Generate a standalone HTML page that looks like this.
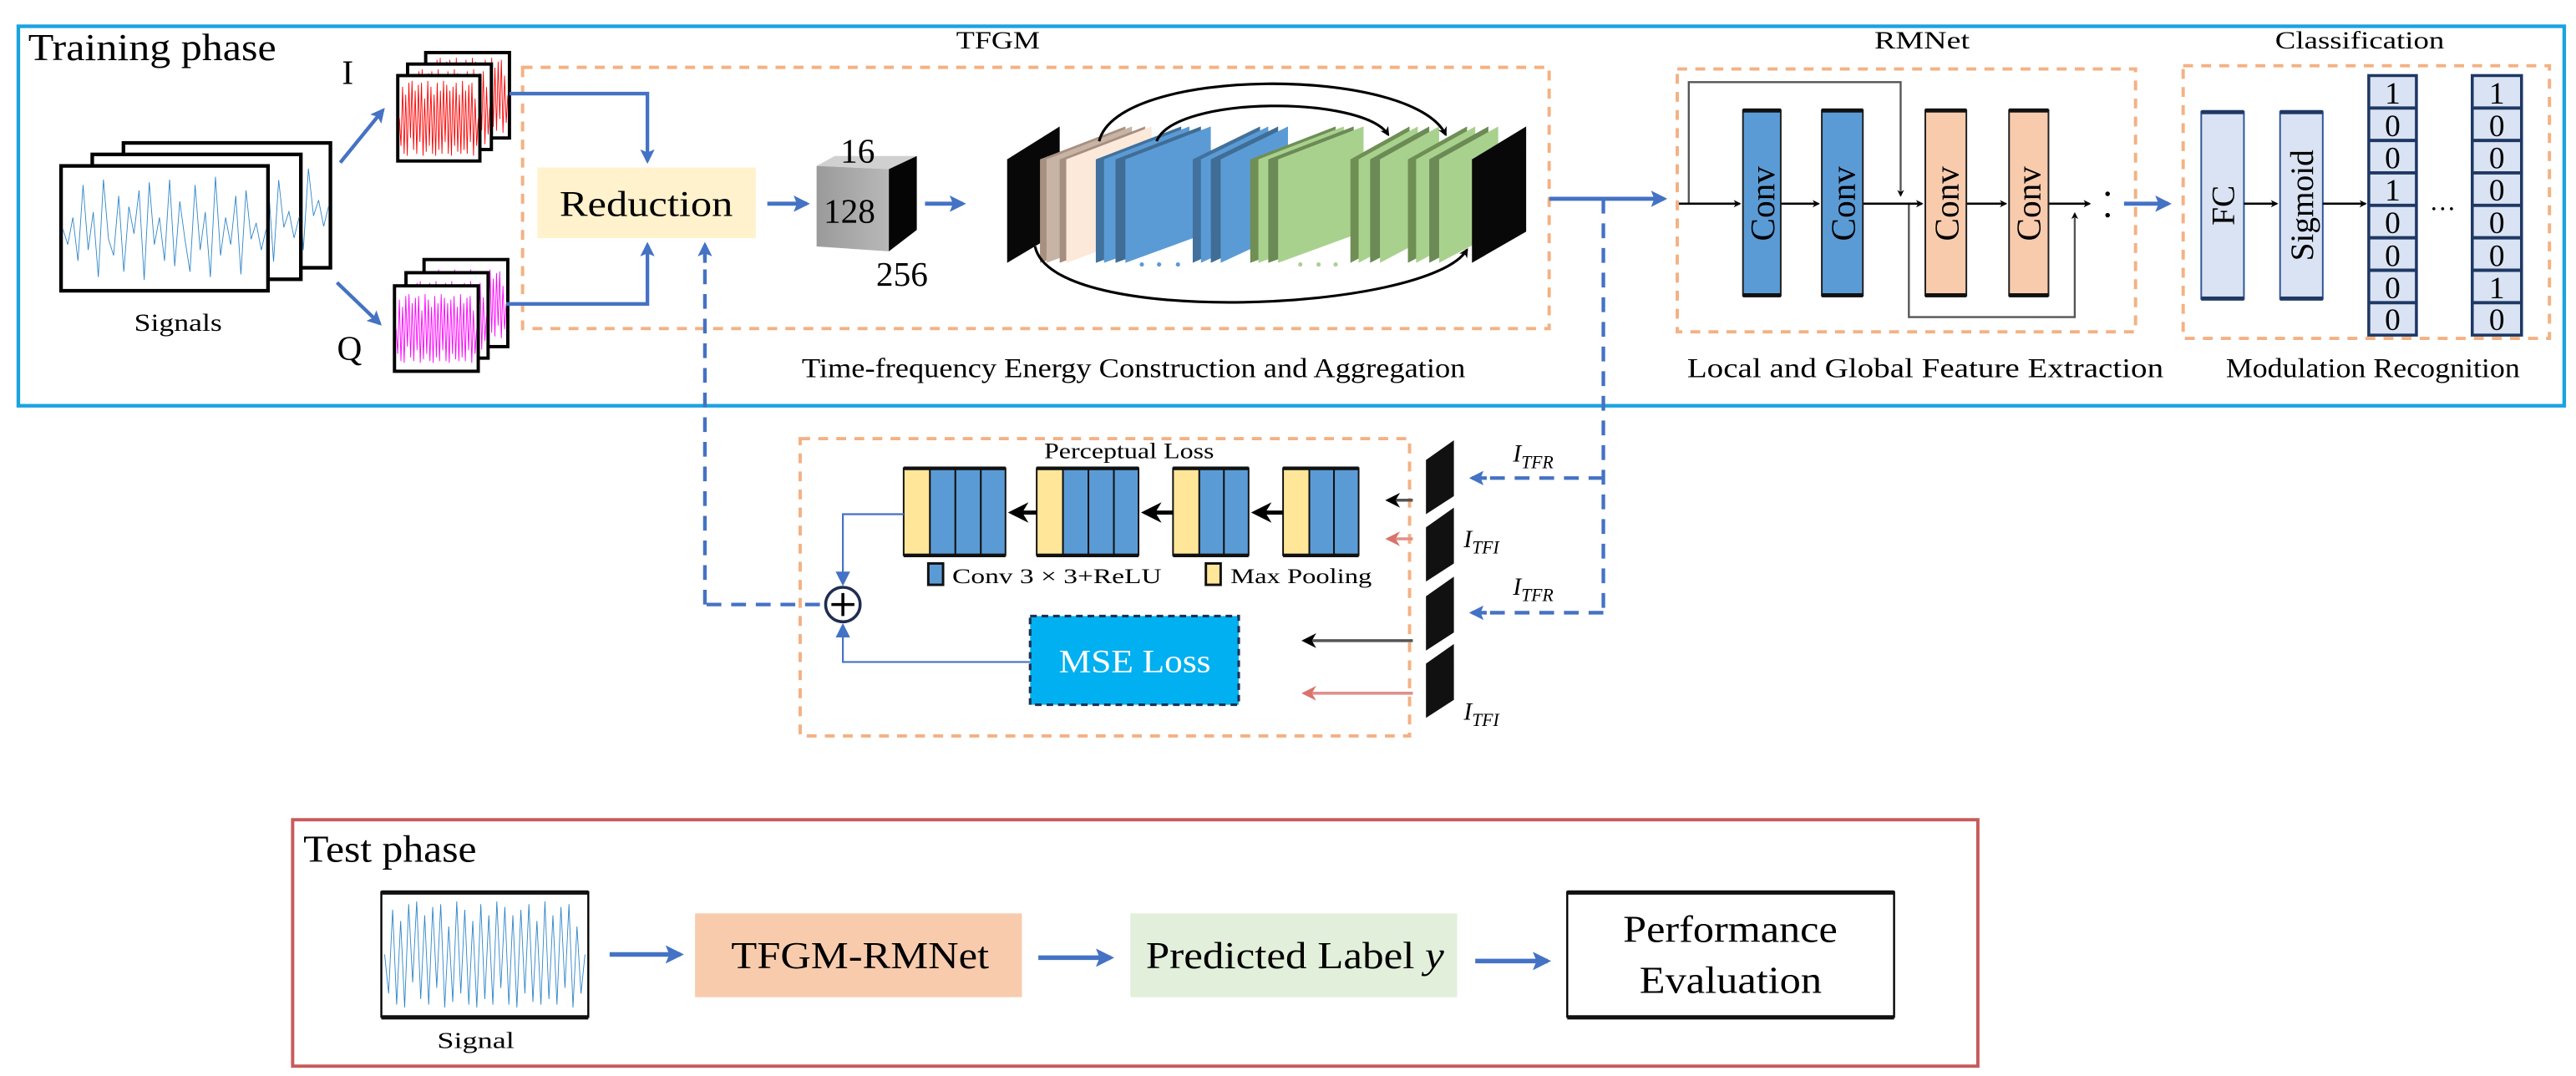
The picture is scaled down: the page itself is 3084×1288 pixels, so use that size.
<!DOCTYPE html>
<html><head><meta charset="utf-8"><style>
html,body{margin:0;padding:0;background:#fff;}
svg{display:block;}
text{font-family:"Liberation Serif",serif;fill:#000;}
</style></head><body>
<svg width="3084" height="1288" viewBox="0 0 1568 655" xmlns="http://www.w3.org/2000/svg">
<defs>
<marker id="ab" viewBox="0 0 10 10" refX="8" refY="5" markerWidth="4" markerHeight="4" orient="auto"><path d="M0,0L10,5L0,10L2,5z" fill="#4472c4"/></marker>
<marker id="abs" viewBox="0 0 10 10" refX="8" refY="5" markerWidth="8" markerHeight="10" orient="auto"><path d="M0,0L10,5L0,10z" fill="#4472c4"/></marker>
<marker id="ak" viewBox="0 0 10 10" refX="8" refY="5" markerWidth="7" markerHeight="7" orient="auto"><path d="M0,0L10,5L0,10z" fill="#000"/></marker>
<marker id="akb" viewBox="0 0 10 10" refX="8" refY="5" markerWidth="3.5" markerHeight="4" orient="auto"><path d="M0,0L10,5L0,10L3,5z" fill="#000"/></marker>
<marker id="ar" viewBox="0 0 10 10" refX="8" refY="5" markerWidth="5" markerHeight="6" orient="auto"><path d="M0,0L10,5L0,10L3,5z" fill="#d9736b"/></marker>
<marker id="akk" viewBox="0 0 10 10" refX="8" refY="5" markerWidth="5" markerHeight="6" orient="auto"><path d="M0,0L10,5L0,10L3,5z" fill="#000"/></marker>
<polyline id="wb" fill="none" stroke="#2e86c8" stroke-width="0.9" vector-effect="non-scaling-stroke" points="0,0 2.5,.3 5,-.2 7.5,.6 10,-.8 12.5,.4 15,-.3 17.5,.9 20,-.9 22.5,.2 25,.5 27.5,-.6 30,.8 32.5,-.4 35,.1 37.5,-.7 40,.95 42.5,-.85 45,.3 47.5,-.2 50,.6 52.5,-.9 55,.7 57.5,-.5 60,.2 62.5,.8 65,-.8 67.5,.4 70,-.3 72.5,.9 75,-.95 77.5,.5 80,-.2 82.5,.3 85,-.6 87.5,.85 90,-.7 92.5,.2 95,-.1 97.5,.4 100,0"/>
<polyline id="wr" fill="none" stroke-width="0.9" vector-effect="non-scaling-stroke" points="0,0 2,.7 4,-.8 6,.9 8,-.6 10,.95 12,-.9 14,.5 16,-.95 18,.8 20,-.7 22,.9 24,-.85 26,.6 28,-.9 30,.95 32,-.5 34,.85 36,-.95 38,.7 40,-.8 42,.9 44,-.6 46,.95 48,-.9 50,.8 52,-.7 54,.9 56,-.95 58,.6 60,-.85 62,.9 64,-.7 66,.95 68,-.8 70,.7 72,-.9 74,.85 76,-.6 78,.9 80,-.95 82,.8 84,-.7 86,.9 88,-.85 90,.6 92,-.9 94,.95 96,-.5 98,.7 100,0"/>
</defs>

<!-- Training phase box -->
<rect x="11" y="16" width="1550" height="231" fill="none" stroke="#1aa3e0" stroke-width="2.2"/>
<text x="17" y="36.5" font-size="23" textLength="151" lengthAdjust="spacingAndGlyphs">Training phase</text>

<!-- Signals stack -->
<g stroke="#000" stroke-width="2.2" fill="#fff">
<rect x="75" y="87" width="126" height="76"/>
<use href="#wb" transform="translate(76,125) scale(1.24,32)"/>
<rect x="56" y="94" width="127" height="76" fill="#fff"/>
<use href="#wb" transform="translate(57,132) scale(1.25,32)"/>
<rect x="37" y="101" width="126" height="76" fill="#fff"/>
<use href="#wb" transform="translate(38,139) scale(1.24,33)"/>
</g>
<text x="81.5" y="201.5" font-size="15" textLength="53.5" lengthAdjust="spacingAndGlyphs">Signals</text>

<!-- I stack -->
<g stroke="#000" stroke-width="2" fill="#fff">
<rect x="259" y="32" width="51" height="52"/><use href="#wr" stroke="#f00" transform="translate(260,58) scale(.49,24)"/>
<rect x="248" y="39" width="51" height="52" fill="#fff"/><use href="#wr" stroke="#f00" transform="translate(249,65) scale(.49,24)"/>
<rect x="242" y="46" width="50" height="52" fill="#fff"/><use href="#wr" stroke="#f00" transform="translate(243,72) scale(.48,24)"/>
</g>
<text x="208" y="51" font-size="21">I</text>
<!-- Q stack -->
<g stroke="#000" stroke-width="2" fill="#fff">
<rect x="258" y="158" width="51" height="53"/><use href="#wr" stroke="#f0f" transform="translate(259,185) scale(.49,22)"/>
<rect x="247" y="166" width="50" height="52" fill="#fff"/><use href="#wr" stroke="#f0f" transform="translate(248,192) scale(.48,22)"/>
<rect x="240" y="174" width="51" height="52" fill="#fff"/><use href="#wr" stroke="#f0f" transform="translate(241,200) scale(.49,22)"/>
</g>
<text x="205" y="219" font-size="21">Q</text>
<line x1="207" y1="99" x2="233" y2="67" stroke="#4472c4" stroke-width="2.2" marker-end="url(#ab)"/>
<line x1="205" y1="172" x2="231" y2="197" stroke="#4472c4" stroke-width="2.2" marker-end="url(#ab)"/>

<!-- TFGM box -->
<rect x="318" y="41" width="625" height="159" fill="none" stroke="#f4b183" stroke-width="2" stroke-dasharray="6 5"/>
<text x="582" y="29.5" font-size="15" textLength="51" lengthAdjust="spacingAndGlyphs">TFGM</text>
<polyline points="310,57 394,57 394,98" fill="none" stroke="#4472c4" stroke-width="2.2" marker-end="url(#ab)"/>
<polyline points="308,185 394,185 394,149" fill="none" stroke="#4472c4" stroke-width="2.2" marker-end="url(#ab)"/>
<rect x="327" y="102" width="133" height="43" fill="#fff2cc"/>
<text x="340.5" y="131.5" font-size="22" textLength="105.5" lengthAdjust="spacingAndGlyphs">Reduction</text>
<line x1="467" y1="124" x2="491" y2="124" stroke="#4472c4" stroke-width="2.5" marker-end="url(#ab)"/>
<!-- cube -->
<linearGradient id="cg" x1="0" y1="0" x2="1" y2="0"><stop offset="0" stop-color="#9a9a9a"/><stop offset="1" stop-color="#b8b8b8"/></linearGradient>
<polygon points="497,101 508,95 558,95 541,103" fill="#d0d0d0"/>
<polygon points="497,101 541,103 541,153 497,150" fill="url(#cg)"/>
<polygon points="541,103 558,95 558,140 541,153" fill="#050505"/>
<text x="522" y="99" font-size="21" text-anchor="middle">16</text>
<text x="517" y="135.5" font-size="21" text-anchor="middle">128</text>
<text x="549" y="174" font-size="21" text-anchor="middle">256</text>
<line x1="563" y1="124" x2="586" y2="124" stroke="#4472c4" stroke-width="2.5" marker-end="url(#ab)"/>

<!-- layer slabs -->
<g>
<polygon points="613,97 645,77 645,141 613,160" fill="#080808"/>
<polygon points="633,97 685,77 685,141 633,160" fill="#a89080"/>
<polygon points="637,97 689,77 689,141 637,160" fill="#c8b4a4"/>
<polygon points="645,97 697,77 697,141 645,160" fill="#a58f80"/>
<polygon points="649,97 701,77 701,141 649,160" fill="#fde9d9"/>
<polygon points="667,97 719,77 719,141 667,160" fill="#41719c"/>
<polygon points="672,97 724,77 724,141 672,160" fill="#5b9bd5"/>
<polygon points="679,97 731,77 731,141 679,160" fill="#3f6d96"/>
<polygon points="685,97 737,77 737,141 685,160" fill="#5b9bd5"/>
<polygon points="726,97 767,77 767,141 726,160" fill="#41719c"/>
<polygon points="731,97 772,77 772,141 731,160" fill="#5b9bd5"/>
<polygon points="737,97 778,77 778,141 737,160" fill="#3f6d96"/>
<polygon points="743,97 784,77 784,141 743,160" fill="#5b9bd5"/>
<polygon points="761,97 813,77 813,141 761,160" fill="#6f8f55"/>
<polygon points="766,97 818,77 818,141 766,160" fill="#a9d18e"/>
<polygon points="772,97 824,77 824,141 772,160" fill="#6b8a55"/>
<polygon points="778,97 830,77 830,141 778,160" fill="#a9d18e"/>
<polygon points="822,97 858,77 858,141 822,160" fill="#6f8f55"/>
<polygon points="827,97 863,77 863,141 827,160" fill="#a9d18e"/>
<polygon points="834,97 870,77 870,141 834,160" fill="#6b8a55"/>
<polygon points="840,97 876,77 876,141 840,160" fill="#a9d18e"/>
<polygon points="857,97 893,77 893,141 857,160" fill="#6f8f55"/>
<polygon points="862,97 898,77 898,141 862,160" fill="#a9d18e"/>
<polygon points="870,97 906,77 906,141 870,160" fill="#6b8a55"/>
<polygon points="876,97 912,77 912,141 876,160" fill="#a9d18e"/>
<polygon points="896,97 929,77 929,141 896,160" fill="#080808"/>
<circle cx="695" cy="161" r="1.3" fill="#5b9bd5"/><circle cx="705.5" cy="161" r="1.3" fill="#5b9bd5"/><circle cx="717" cy="161" r="1.3" fill="#5b9bd5"/>
<circle cx="791.5" cy="161" r="1.3" fill="#a9d18e"/><circle cx="802.6" cy="161" r="1.3" fill="#a9d18e"/><circle cx="813" cy="161" r="1.3" fill="#a9d18e"/>
</g>
<path d="M669,86 C680,40 860,40 880,82" fill="none" stroke="#000" stroke-width="1.6" marker-end="url(#akb)"/>
<path d="M704,86 C715,58 830,58 845,82" fill="none" stroke="#000" stroke-width="1.6" marker-end="url(#akb)"/>
<path d="M630,150 C640,200 870,190 893,152" fill="none" stroke="#000" stroke-width="1.6" marker-end="url(#akb)"/>

<text x="488" y="229.5" font-size="16.5" textLength="404" lengthAdjust="spacingAndGlyphs">Time-frequency Energy Construction and Aggregation</text>

<!-- TFGM → RMNet -->
<line x1="943" y1="121" x2="1013" y2="121" stroke="#4472c4" stroke-width="2.5" marker-end="url(#ab)"/>

<!-- RMNet -->
<rect x="1021" y="42" width="279" height="160" fill="none" stroke="#f4b183" stroke-width="2" stroke-dasharray="6 5"/>
<text x="1141" y="29.5" font-size="15" textLength="58" lengthAdjust="spacingAndGlyphs">RMNet</text>
<polyline points="1028,124 1028,50 1157,50 1157,119" fill="none" stroke="#555" stroke-width="1.2" marker-end="url(#akb)"/>
<polyline points="1162,124 1162,193 1263,193 1263,130" fill="none" stroke="#555" stroke-width="1.2" marker-end="url(#akb)"/>
<g stroke="#000" stroke-width="1.3">
<line x1="1022" y1="124" x2="1059" y2="124" marker-end="url(#akb)"/>
<line x1="1084" y1="124" x2="1107" y2="124" marker-end="url(#akb)"/>
<line x1="1134" y1="124" x2="1170" y2="124" marker-end="url(#akb)"/>
<line x1="1197" y1="124" x2="1221" y2="124" marker-end="url(#akb)"/>
<line x1="1247" y1="124" x2="1272" y2="124" marker-end="url(#akb)"/>
</g>
<g>
<rect x="1061" y="67" width="23" height="113" fill="#5b9bd5" stroke="#1f1f1f" stroke-width="1"/>
<rect x="1109" y="67" width="25" height="113" fill="#5b9bd5" stroke="#1f1f1f" stroke-width="1"/>
<rect x="1172" y="67" width="25" height="113" fill="#f8cbad" stroke="#1f1f1f" stroke-width="1"/>
<rect x="1223" y="67" width="24" height="113" fill="#f8cbad" stroke="#1f1f1f" stroke-width="1"/>
<rect x="1061" y="66" width="23" height="2.5" fill="#111"/><rect x="1061" y="178.5" width="23" height="2.5" fill="#111"/>
<rect x="1109" y="66" width="25" height="2.5" fill="#111"/><rect x="1109" y="178.5" width="25" height="2.5" fill="#111"/>
<rect x="1172" y="66" width="25" height="2.5" fill="#111"/><rect x="1172" y="178.5" width="25" height="2.5" fill="#111"/>
<rect x="1223" y="66" width="24" height="2.5" fill="#111"/><rect x="1223" y="178.5" width="24" height="2.5" fill="#111"/>
</g>
<g font-size="21" text-anchor="middle">
<text transform="translate(1080,124) rotate(-90)">Conv</text>
<text transform="translate(1129,124) rotate(-90)">Conv</text>
<text transform="translate(1192,124) rotate(-90)">Conv</text>
<text transform="translate(1242,124) rotate(-90)">Conv</text>
</g>
<circle cx="1283" cy="118" r="1.4" fill="#000"/><circle cx="1283" cy="131" r="1.4" fill="#000"/>
<text x="1027" y="229.5" font-size="16.5" textLength="290" lengthAdjust="spacingAndGlyphs">Local and Global Feature Extraction</text>

<line x1="1293" y1="124" x2="1320" y2="124" stroke="#4472c4" stroke-width="2.5" marker-end="url(#ab)"/>

<!-- Classification -->
<rect x="1329" y="40" width="223" height="166" fill="none" stroke="#f4b183" stroke-width="2" stroke-dasharray="6 5"/>
<text x="1385" y="29.5" font-size="15" textLength="103" lengthAdjust="spacingAndGlyphs">Classification</text>
<rect x="1340" y="68" width="26" height="114" fill="#dae3f3" stroke="#2f5597" stroke-width="1"/>
<rect x="1340" y="67" width="26" height="2.5" fill="#1f3864"/><rect x="1340" y="180.5" width="26" height="2.5" fill="#1f3864"/>
<rect x="1388" y="68" width="26" height="114" fill="#dae3f3" stroke="#2f5597" stroke-width="1"/>
<rect x="1388" y="67" width="26" height="2.5" fill="#1f3864"/><rect x="1388" y="180.5" width="26" height="2.5" fill="#1f3864"/>
<text transform="translate(1360,125) rotate(-90)" font-size="20" text-anchor="middle">FC</text>
<text transform="translate(1408,125) rotate(-90)" font-size="20" text-anchor="middle">Sigmoid</text>
<line x1="1366" y1="124" x2="1386" y2="124" stroke="#000" stroke-width="1.3" marker-end="url(#akb)"/>
<line x1="1414" y1="124" x2="1440" y2="124" stroke="#000" stroke-width="1.3" marker-end="url(#akb)"/>
<g stroke="#1f3864" stroke-width="1.8" fill="#dae3f3">
<rect x="1442" y="46" width="29" height="158"/>
<rect x="1505" y="46" width="30" height="158"/>
</g>
<g stroke="#1f3864" stroke-width="2">
<line x1="1442" y1="65.75" x2="1471" y2="65.75"/><line x1="1442" y1="85.5" x2="1471" y2="85.5"/><line x1="1442" y1="105.25" x2="1471" y2="105.25"/><line x1="1442" y1="125" x2="1471" y2="125"/><line x1="1442" y1="144.75" x2="1471" y2="144.75"/><line x1="1442" y1="164.5" x2="1471" y2="164.5"/><line x1="1442" y1="184.25" x2="1471" y2="184.25"/>
<line x1="1505" y1="65.75" x2="1535" y2="65.75"/><line x1="1505" y1="85.5" x2="1535" y2="85.5"/><line x1="1505" y1="105.25" x2="1535" y2="105.25"/><line x1="1505" y1="125" x2="1535" y2="125"/><line x1="1505" y1="144.75" x2="1535" y2="144.75"/><line x1="1505" y1="164.5" x2="1535" y2="164.5"/><line x1="1505" y1="184.25" x2="1535" y2="184.25"/>
</g>
<g font-size="19" text-anchor="middle">
<text x="1456.5" y="63">1</text><text x="1456.5" y="83">0</text><text x="1456.5" y="102.5">0</text><text x="1456.5" y="122">1</text><text x="1456.5" y="142">0</text><text x="1456.5" y="162">0</text><text x="1456.5" y="181.5">0</text><text x="1456.5" y="201">0</text>
<text x="1520" y="63">1</text><text x="1520" y="83">0</text><text x="1520" y="102.5">0</text><text x="1520" y="122">0</text><text x="1520" y="142">0</text><text x="1520" y="162">0</text><text x="1520" y="181.5">1</text><text x="1520" y="201">0</text>
</g>
<text x="1479" y="128" font-size="16">…</text>
<text x="1355" y="229.5" font-size="16.5" textLength="179" lengthAdjust="spacingAndGlyphs">Modulation Recognition</text>

<!-- dashed feedback lines -->
<g stroke="#4472c4" stroke-width="2.2" fill="none" stroke-dasharray="9 6">
<line x1="976" y1="121" x2="976" y2="373"/>
<line x1="429" y1="368" x2="429" y2="152"/>
<line x1="430" y1="368" x2="502" y2="368"/>
<line x1="976" y1="291" x2="900" y2="291"/>
<line x1="976" y1="373" x2="900" y2="373"/>
</g>
<line x1="429" y1="160" x2="429" y2="149" stroke="#4472c4" stroke-width="2.2" marker-end="url(#ab)"/>
<line x1="905" y1="291" x2="896" y2="291" stroke="#4472c4" stroke-width="2.2" marker-end="url(#ab)"/>
<line x1="905" y1="373" x2="896" y2="373" stroke="#4472c4" stroke-width="2.2" marker-end="url(#ab)"/>

<!-- Perceptual loss box -->
<rect x="487" y="267" width="371" height="181" fill="none" stroke="#f4b183" stroke-width="2" stroke-dasharray="6 5"/>
<text x="635.5" y="279" font-size="13.5" textLength="103.5" lengthAdjust="spacingAndGlyphs">Perceptual Loss</text>
<g stroke="#111" stroke-width="1">
<rect x="550" y="285" width="16" height="53" fill="#ffe699"/><rect x="566" y="285" width="15.5" height="53" fill="#5b9bd5"/><rect x="581.5" y="285" width="15.5" height="53" fill="#5b9bd5"/><rect x="597" y="285" width="15" height="53" fill="#5b9bd5"/>
<rect x="631" y="285" width="16" height="53" fill="#ffe699"/><rect x="647" y="285" width="15.5" height="53" fill="#5b9bd5"/><rect x="662.5" y="285" width="15.5" height="53" fill="#5b9bd5"/><rect x="678" y="285" width="15" height="53" fill="#5b9bd5"/>
<rect x="714" y="285" width="16" height="53" fill="#ffe699"/><rect x="730" y="285" width="15" height="53" fill="#5b9bd5"/><rect x="745" y="285" width="15" height="53" fill="#5b9bd5"/>
<rect x="781" y="285" width="16" height="53" fill="#ffe699"/><rect x="797" y="285" width="15" height="53" fill="#5b9bd5"/><rect x="812" y="285" width="15" height="53" fill="#5b9bd5"/>
</g>
<g fill="#111">
<rect x="550" y="284" width="62" height="2.2"/><rect x="550" y="337" width="62" height="2.2"/>
<rect x="631" y="284" width="62" height="2.2"/><rect x="631" y="337" width="62" height="2.2"/>
<rect x="714" y="284" width="46" height="2.2"/><rect x="714" y="337" width="46" height="2.2"/>
<rect x="781" y="284" width="46" height="2.2"/><rect x="781" y="337" width="46" height="2.2"/>
</g>
<g stroke="#000" stroke-width="2.5">
<line x1="631" y1="312" x2="616" y2="312" marker-end="url(#akk)"/>
<line x1="714" y1="312" x2="697" y2="312" marker-end="url(#akk)"/>
<line x1="781" y1="312" x2="764" y2="312" marker-end="url(#akk)"/>
</g>
<rect x="565" y="343" width="9" height="13" fill="#5b9bd5" stroke="#111" stroke-width="1.5"/>
<text x="579.6" y="355" font-size="13" textLength="127.4" lengthAdjust="spacingAndGlyphs">Conv 3 × 3+ReLU</text>
<rect x="734" y="343" width="9" height="13" fill="#ffe699" stroke="#111" stroke-width="1.5"/>
<text x="749" y="355" font-size="13" textLength="86" lengthAdjust="spacingAndGlyphs">Max Pooling</text>

<circle cx="513" cy="368" r="10.5" fill="#fff" stroke="#1f2d50" stroke-width="1.8"/>
<line x1="506" y1="368" x2="520" y2="368" stroke="#000" stroke-width="1.8"/>
<line x1="513" y1="361" x2="513" y2="375" stroke="#000" stroke-width="1.8"/>
<polyline points="550,313 513,313 513,355" fill="none" stroke="#4472c4" stroke-width="1.1" marker-end="url(#abs)"/>
<polyline points="627,403 513,403 513,381" fill="none" stroke="#4472c4" stroke-width="1.1" marker-end="url(#abs)"/>

<rect x="627" y="375" width="127" height="54" fill="#00b0f0" stroke="#1f3050" stroke-width="1.6" stroke-dasharray="4 3"/>
<text x="644.5" y="409" font-size="20" fill="#fff" style="fill:#fff" textLength="92.5" lengthAdjust="spacingAndGlyphs">MSE Loss</text>

<!-- right inputs -->
<g stroke-width="1.8">
<line x1="860" y1="304.5" x2="845" y2="304.5" stroke="#555" marker-end="url(#akk)"/>
<line x1="860" y1="328" x2="845" y2="328" stroke="#e0908a" marker-end="url(#ar)"/>
<line x1="860" y1="390" x2="794" y2="390" stroke="#555" marker-end="url(#akk)"/>
<line x1="860" y1="422" x2="794" y2="422" stroke="#e0908a" marker-end="url(#ar)"/>
</g>
<g fill="#111">
<polygon points="868,280 885,268 885,302 868,313"/>
<polygon points="868,321 885,309 885,343 868,354"/>
<polygon points="868,363 885,351 885,385 868,396"/>
<polygon points="868,404 885,392 885,426 868,437"/>
</g>
<g font-size="15" font-style="italic">
<text x="921" y="281">I<tspan font-size="11" dy="4">TFR</tspan></text>
<text x="891" y="333">I<tspan font-size="11" dy="4">TFI</tspan></text>
<text x="921" y="362">I<tspan font-size="11" dy="4">TFR</tspan></text>
<text x="891" y="438">I<tspan font-size="11" dy="4">TFI</tspan></text>
</g>

<!-- Test phase -->
<rect x="178" y="499" width="1026" height="150" fill="none" stroke="#c85a5a" stroke-width="2"/>
<text x="184.5" y="524.5" font-size="23" textLength="105.5" lengthAdjust="spacingAndGlyphs">Test phase</text>
<rect x="232" y="543" width="126" height="76" fill="#fff" stroke="#000" stroke-width="1.2"/>
<rect x="232" y="542" width="126" height="2.6" fill="#111"/><rect x="232" y="618" width="126" height="2.6" fill="#111"/>
<use href="#wr" stroke="#2e86c8" transform="translate(234,581) scale(1.22,34)"/>
<text x="266" y="638" font-size="14" textLength="47" lengthAdjust="spacingAndGlyphs">Signal</text>
<line x1="371" y1="581" x2="414" y2="581" stroke="#4472c4" stroke-width="2.8" marker-end="url(#ab)"/>
<rect x="423" y="556" width="199" height="51" fill="#f8cbad"/>
<text x="445" y="589.5" font-size="23" textLength="157" lengthAdjust="spacingAndGlyphs">TFGM-RMNet</text>
<line x1="632" y1="583" x2="676" y2="583" stroke="#4472c4" stroke-width="2.8" marker-end="url(#ab)"/>
<rect x="688" y="556" width="199" height="51" fill="#e2efda"/>
<text x="697.5" y="589.5" font-size="23" textLength="181.5" lengthAdjust="spacingAndGlyphs">Predicted Label <tspan font-style="italic">y</tspan></text>
<line x1="898" y1="585" x2="942" y2="585" stroke="#4472c4" stroke-width="2.8" marker-end="url(#ab)"/>
<rect x="954" y="543" width="199" height="76" fill="#fff" stroke="#000" stroke-width="1.2"/>
<rect x="954" y="542" width="199" height="2.6" fill="#111"/><rect x="954" y="618" width="199" height="2.6" fill="#111"/>
<text x="988" y="573.5" font-size="23" textLength="130.5" lengthAdjust="spacingAndGlyphs">Performance</text>
<text x="998" y="604.5" font-size="23" textLength="111" lengthAdjust="spacingAndGlyphs">Evaluation</text>
</svg>
</body></html>
